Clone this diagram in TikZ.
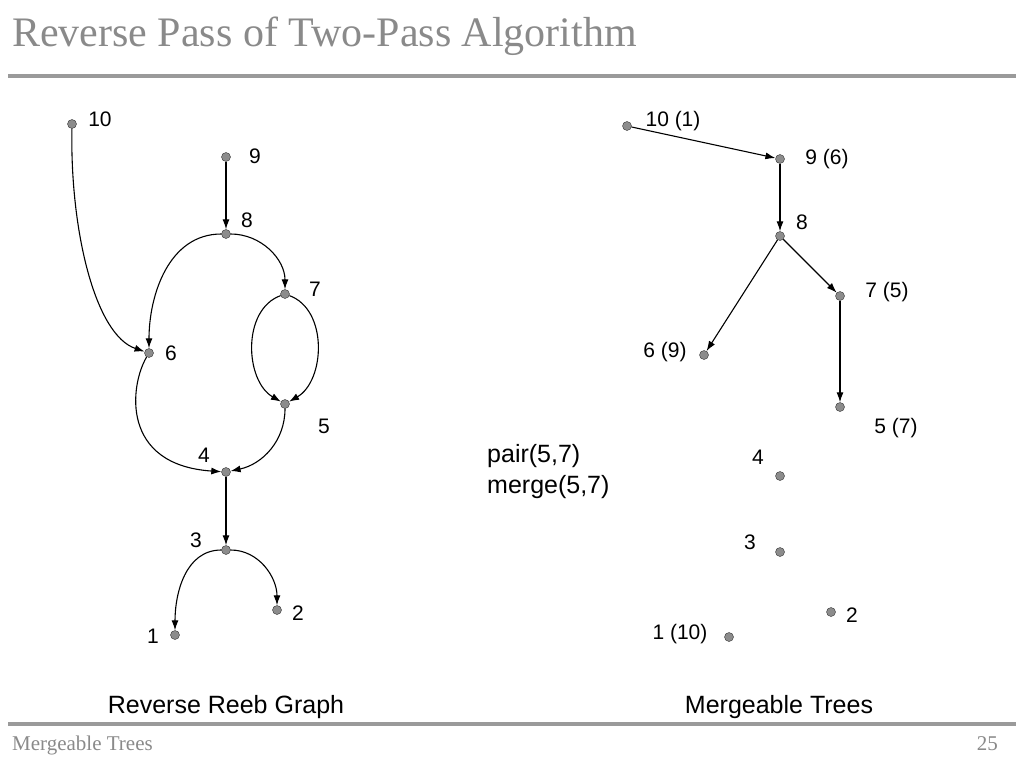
\documentclass[tikz,border=0pt]{standalone}
\usepackage{fontspec}
\setmainfont{Liberation Serif}
\setsansfont{Liberation Sans}
\usetikzlibrary{arrows.meta}

\definecolor{titlegray}{HTML}{8A8A8A}
\definecolor{rulegray}{HTML}{9A9A9A}
\definecolor{dotgray}{HTML}{8C8C8C}

\tikzset{
  vert/.style={circle, draw=black!80, fill=dotgray, inner sep=0pt, minimum size=9pt},
  lbl/.style={font=\sffamily\fontsize{21}{25}\selectfont},
  captext/.style={font=\sffamily\fontsize{25}{30}\selectfont},
  edge/.style={-{Latex[length=10pt,width=7pt]}, line width=1.1pt},
}

\begin{document}
\begin{tikzpicture}[x=1pt, y=-1pt]
  \useasboundingbox (0,0) rectangle (1024,768);

  % Title and rules
  \node[anchor=base west, text=titlegray, font=\fontsize{42}{48}\selectfont, inner sep=0pt] (title) at (12,46) {Reverse Pass of Two-Pass Algorithm};
  \fill[rulegray] (8,74) rectangle (1016,78);
  \fill[rulegray] (8,722) rectangle (1016,726);
  \node[anchor=base west, text=titlegray, font=\fontsize{21}{25}\selectfont, inner sep=0pt] (foot) at (12,750) {Mergeable Trees};
  \node[anchor=base east, text=titlegray, font=\fontsize{21}{25}\selectfont, inner sep=0pt] (page) at (998,750) {25};

  % Reverse Reeb graph: vertices
  \node[vert] (a10) at (72,124) {};
  \node[vert] (a9) at (226,157) {};
  \node[vert] (a8) at (226,234) {};
  \node[vert] (a7) at (285,294) {};
  \node[vert] (a6) at (149,353) {};
  \node[vert] (a5) at (285,404) {};
  \node[vert] (a4) at (226,472) {};
  \node[vert] (a3) at (226,550) {};
  \node[vert] (a2) at (277,610) {};
  \node[vert] (a1) at (175,635) {};

  % Reverse Reeb graph: labels
  \node[lbl] (la10) at (100,119) {10};
  \node[lbl] (la9) at (255,156) {9};
  \node[lbl] (la8) at (247,220) {8};
  \node[lbl] (la7) at (315,289) {7};
  \node[lbl] (la6) at (171,353) {6};
  \node[lbl] (la5) at (324,426) {5};
  \node[lbl] (la4) at (204,455) {4};
  \node[lbl] (la3) at (196,540) {3};
  \node[lbl] (la2) at (298,613) {2};
  \node[lbl] (la1) at (153,636) {1};

  % Reverse Reeb graph: arcs
  \draw[edge] (a10) .. controls (70,230) and (95,335) .. (a6);
  \draw[edge] (a9) -- (a8);
  \draw[edge] (a8) to[out=180, in=90] (a6);
  \draw[edge] (a8) to[out=0, in=90] (a7);
  \draw[edge] (a7) to[out=200, in=150] (a5);
  \draw[edge] (a7) to[out=-20, in=30] (a5);
  \draw[edge] (a6) .. controls (130,385) and (120,465) .. (a4);
  \draw[edge] (a5) to[out=-90, in=12] (a4);
  \draw[edge] (a4) -- (a3);
  \draw[edge] (a3) to[out=180, in=90] (a1);
  \draw[edge] (a3) to[out=0, in=90] (a2);

  % Mergeable trees: vertices
  \node[vert] (b10) at (627,126) {};
  \node[vert] (b9) at (780,159) {};
  \node[vert] (b8) at (780,236) {};
  \node[vert] (b7) at (840,296) {};
  \node[vert] (b6) at (704,355) {};
  \node[vert] (b5) at (840,407) {};
  \node[vert] (b4) at (780,476) {};
  \node[vert] (b3) at (780,552) {};
  \node[vert] (b2) at (831,612) {};
  \node[vert] (b1) at (729,637) {};

  % Mergeable trees: labels
  \node[lbl] (lb10) at (673,121) {10 (1)};
  \node[lbl] (lb9) at (827,159) {9 (6)};
  \node[lbl] (lb8) at (802,222) {8};
  \node[lbl] (lb7) at (887,292) {7 (5)};
  \node[lbl] (lb6) at (665,352) {6 (9)};
  \node[lbl] (lb5) at (896,428) {5 (7)};
  \node[lbl] (lb4) at (758,457) {4};
  \node[lbl] (lb3) at (750,542) {3};
  \node[lbl] (lb2) at (852,615) {2};
  \node[lbl] (lb1) at (680,634) {1 (10)};

  % Mergeable trees: edges
  \draw[edge] (b10) -- (b9);
  \draw[edge] (b9) -- (b8);
  \draw[edge] (b8) -- (b6);
  \draw[edge] (b8) -- (b7);
  \draw[edge] (b7) -- (b5);

  % Operations
  \node[captext, anchor=base west, inner sep=0pt] (pair) at (487,462) {pair(5,7)};
  \node[captext, anchor=base west, inner sep=0pt] (merge) at (487,493) {merge(5,7)};

  % Captions
  \node[captext, anchor=base] (capa) at (226,713) {Reverse Reeb Graph};
  \node[captext, anchor=base] (capb) at (779,713) {Mergeable Trees};
\end{tikzpicture}
\end{document}
